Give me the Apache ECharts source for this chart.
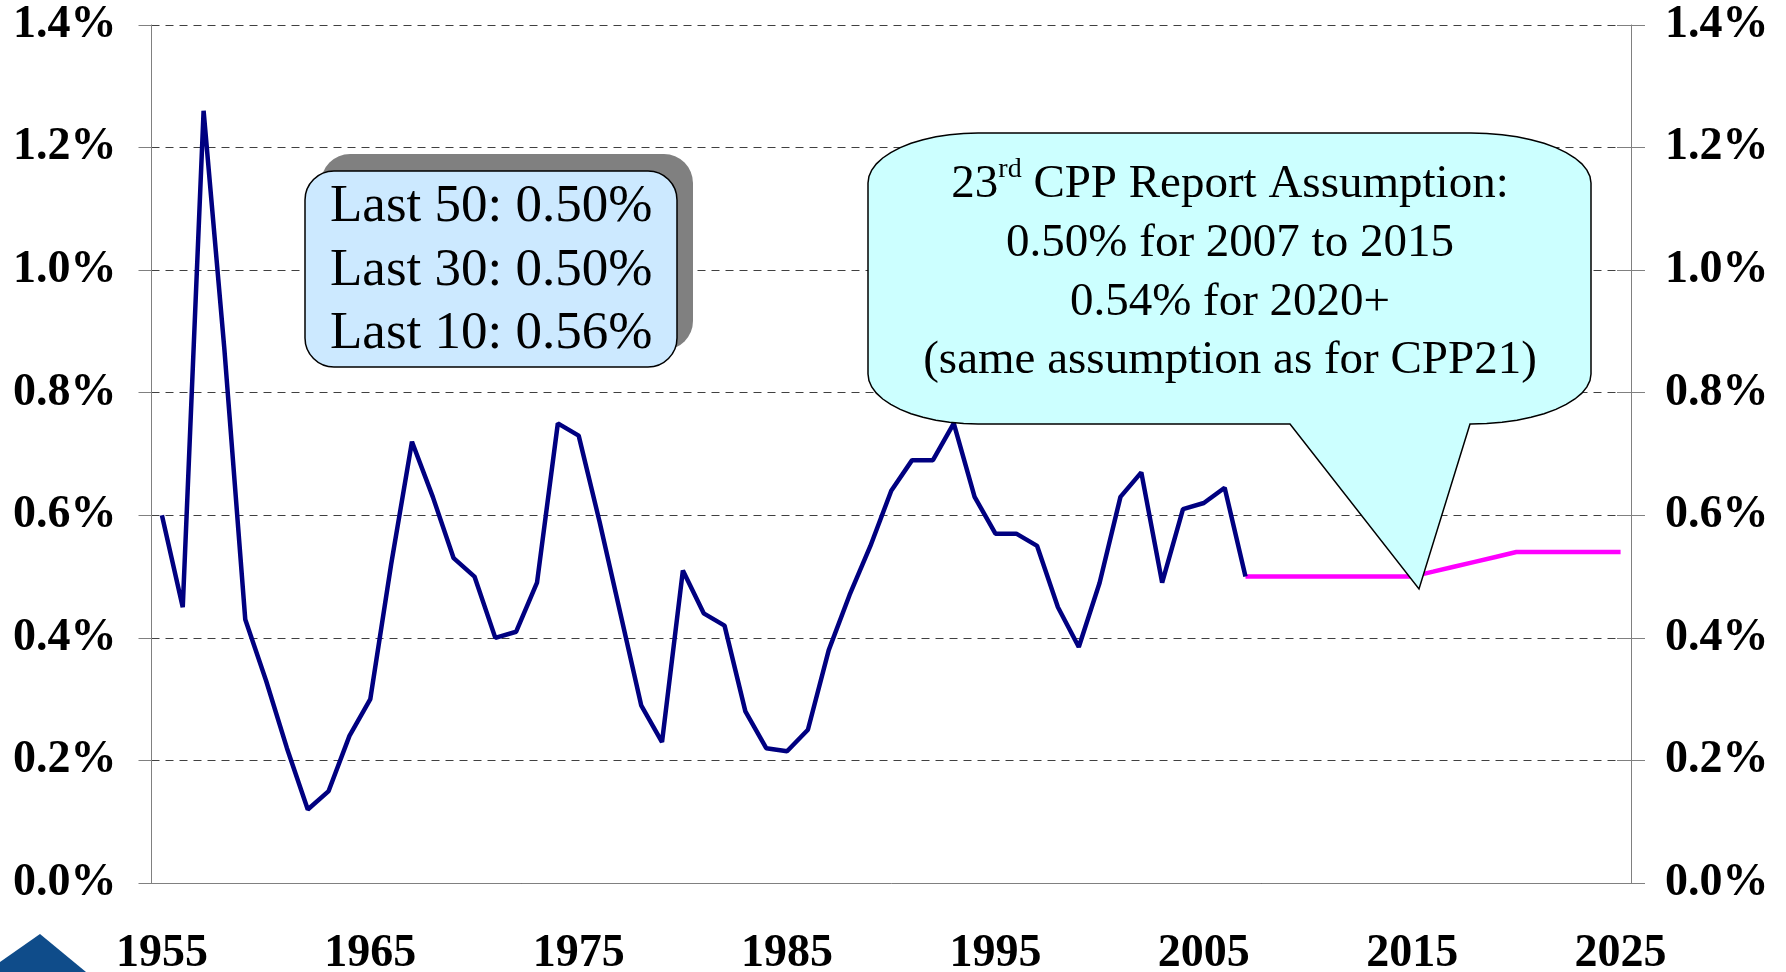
<!DOCTYPE html>
<html>
<head>
<meta charset="utf-8">
<title>CPP assumption</title>
<script src="https://cdn.jsdelivr.net/npm/echarts@6/dist/echarts.min.js"></script>
<style>
  html, body { margin: 0; padding: 0; background: #fff; }
  #main { width: 1786px; height: 972px; }
</style>
</head>
<body>
<div id="main"></div>
<script>
var firstYear = 1955;
var lastYear = 2025;
var years = [];
for (var yr = firstYear; yr <= lastYear; yr++) years.push(String(yr));

// historical values 1955-2007 (%)
var histValues = [
  0.60, 0.45, 1.26, 0.87, 0.43, 0.33, 0.22, 0.12, 0.15, 0.24,
  0.30, 0.52, 0.72, 0.63, 0.53, 0.50, 0.40, 0.41, 0.49, 0.75,
  0.73, 0.59, 0.44, 0.29, 0.23, 0.51, 0.44, 0.42, 0.28, 0.22,
  0.215, 0.25, 0.38, 0.47, 0.55, 0.64, 0.69, 0.69, 0.75, 0.63,
  0.57, 0.57, 0.55, 0.45, 0.385, 0.49, 0.63, 0.67, 0.49, 0.61,
  0.62, 0.645, 0.50
];

// report assumption 2007-2025 (%)
var assumptionStart = 2007;
var assumValues = [
  0.50, 0.50, 0.50, 0.50, 0.50, 0.50, 0.50, 0.50, 0.50,
  0.508, 0.516, 0.524, 0.532,
  0.54, 0.54, 0.54, 0.54, 0.54, 0.54
];

var yMin = 0, yMax = 1.4, yStep = 0.2;

var boxLines = ['Last 50: 0.50%', 'Last 30: 0.50%', 'Last 10: 0.56%'];
var calloutLines = [
  '{a|23}{s|rd}{a| CPP Report Assumption:}',
  '{a|0.50% for 2007 to 2015}',
  '{a|0.54% for 2020+}',
  '{a|(same assumption as for CPP21)}'
];

var histData = years.map(function (y, i) {
  return i < histValues.length ? histValues[i] : null;
});
var assumData = years.map(function (y) {
  var k = +y - assumptionStart;
  return k >= 0 && k < assumValues.length ? assumValues[k] : null;
});

var serif = 'Liberation Serif';
var labelStyle = { fontFamily: serif, fontWeight: 'bold', fontSize: 46, color: '#000' };
function pct(v) { return v.toFixed(1) + '%'; }

// rounded speech-bubble outline (elliptical corners + pointer)
function bubble(x0, y0, x1, y1, rxL, rxR, ry, pLeft, pRight, tip) {
  var pts = [];
  function arc(cx, cy, rx, a0, a1) {
    for (var s = 0; s <= 12; s++) {
      var a = (a0 + (a1 - a0) * s / 12) * Math.PI / 180;
      pts.push([cx + rx * Math.cos(a), cy + ry * Math.sin(a)]);
    }
  }
  arc(x0 + rxL, y0 + ry, rxL, 180, 270);
  arc(x1 - rxR, y0 + ry, rxR, 270, 360);
  arc(x1 - rxR, y1 - ry, rxR, 0, 90);
  pts.push([pRight, y1], tip, [pLeft, y1]);
  arc(x0 + rxL, y1 - ry, rxL, 90, 180);
  return pts;
}

var chart = echarts.init(document.getElementById('main'));

var yAxisBase = {
  type: 'value', min: yMin, max: yMax, interval: yStep
};

chart.setOption({
  animation: false,
  backgroundColor: '#fff',
  grid: { left: 151.5, right: 155, top: 25, bottom: 89, outerBoundsMode: 'none', containLabel: false },
  xAxis: {
    type: 'category',
    data: years,
    boundaryGap: true,
    axisLine: { lineStyle: { color: '#808080', width: 1 } },
    axisTick: { interval: 4, length: 13, lineStyle: { color: '#808080' } },
    axisLabel: Object.assign({ interval: 9, margin: 48 }, labelStyle),
    splitLine: { show: false }
  },
  yAxis: [
    Object.assign({}, yAxisBase, {
      position: 'left',
      axisLine: { show: true, lineStyle: { color: '#808080', width: 1 } },
      axisTick: { show: true, length: 13, lineStyle: { color: '#808080' } },
      axisLabel: Object.assign({ margin: 35, formatter: pct }, labelStyle),
      splitLine: { show: true, lineStyle: { color: '#404040', type: [8, 6], width: 1 } }
    }),
    Object.assign({}, yAxisBase, {
      position: 'right',
      axisLine: { show: true, lineStyle: { color: '#808080', width: 1 } },
      axisTick: { show: true, length: 14, lineStyle: { color: '#808080' } },
      axisLabel: Object.assign({ margin: 34, formatter: pct }, labelStyle),
      splitLine: { show: false }
    }),
    Object.assign({}, yAxisBase, {
      position: 'right',
      axisLine: { show: false },
      axisTick: { show: true, inside: true, length: 14, lineStyle: { color: '#808080' } },
      axisLabel: { show: false },
      splitLine: { show: false }
    })
  ],
  series: [
    {
      name: 'History',
      type: 'line',
      data: histData,
      symbol: 'none',
      lineStyle: { color: '#000080', width: 4.5 },
      z: 3
    },
    {
      name: 'Assumption',
      type: 'line',
      data: assumData,
      symbol: 'none',
      lineStyle: { color: '#FF00FF', width: 4.5 },
      z: 2
    }
  ],
  graphic: [
    {
      type: 'rect', z: 100,
      shape: { x: 321, y: 154, width: 372, height: 196, r: 29 },
      style: { fill: '#808080' }
    },
    {
      type: 'rect', z: 101,
      shape: { x: 305, y: 171, width: 372, height: 196, r: 29 },
      style: { fill: '#CCE9FF', stroke: '#000', lineWidth: 1.5 }
    },
    {
      type: 'text', z: 102, x: 330, y: 271,
      style: {
        text: boxLines.join('\n'),
        fontFamily: serif, fontSize: 53, fill: '#000',
        align: 'left', verticalAlign: 'middle', lineHeight: 63.5
      }
    },
    {
      type: 'polygon', z: 100,
      shape: { points: bubble(868, 133, 1591, 424, 110, 120, 50, 1290, 1470, [1419, 589]) },
      style: { fill: '#CCFFFF', stroke: '#000', lineWidth: 1.5 }
    },
    {
      type: 'text', z: 102, x: 1230, y: 273,
      style: {
        text: calloutLines.join('\n'),
        align: 'center', verticalAlign: 'middle',
        rich: {
          a: { fontFamily: serif, fontSize: 47, fill: '#000', color: '#000', lineHeight: 58.7 },
          s: { fontFamily: serif, fontSize: 28, fill: '#000', color: '#000', lineHeight: 30, verticalAlign: 'top' }
        }
      }
    },
    {
      type: 'polygon', z: 100,
      shape: { points: [[40, 934], [86, 972], [0, 972], [0, 962]] },
      style: { fill: '#0F4C8A' }
    }
  ]
});
</script>
</body>
</html>
